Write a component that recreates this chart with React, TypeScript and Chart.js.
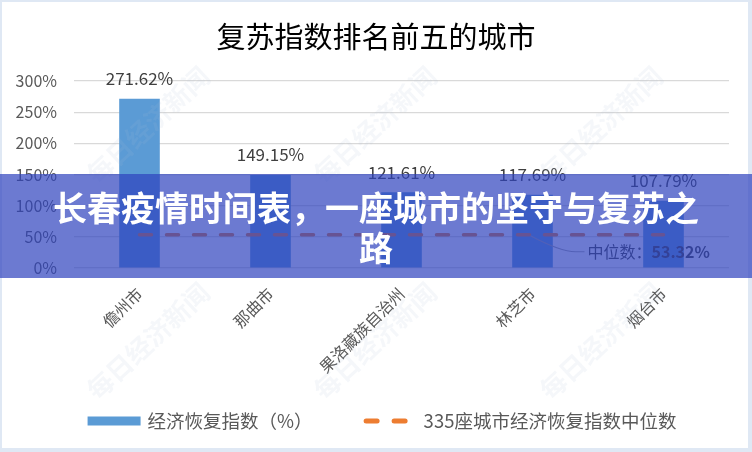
import React, { useEffect, useRef } from "react";
import { Chart, registerables } from "chart.js";

Chart.register(...registerables);

const chartTitle = "复苏指数排名前五的城市";
const cities = ["儋州市", "那曲市", "果洛藏族自治州", "林芝市", "烟台市"];
const recoveryIndex = [271.62, 149.15, 121.61, 117.69, 107.79];
const medianValue = 53.32;
const medianSeries = [53.32, 53.32, 53.32, 53.32, 53.32];
const yMin = 0;
const yMax = 300;
const yStep = 50;
const barLegend = "经济恢复指数（%）";
const lineLegend = "335座城市经济恢复指数中位数";
const medianPrefix = "中位数：";
const bannerLines = ["长春疫情时间表，一座城市的坚守与复苏之", "路"];
const watermarkText = "每日经济新闻";

const FONT = '"Noto Sans CJK SC", "Noto Sans", sans-serif';
const BAR_COLOR = "#5B9BD5";
const LINE_COLOR = "#ED7D31";

const extrasPlugin = {
  id: "extras",
  afterDatasetsDraw(chart: any) {
    const ctx = chart.ctx;
    const xs = chart.scales.x;
    const ys = chart.scales.y;
    const meta = chart.getDatasetMeta(0);
    ctx.save();
    // title
    ctx.font = `29px ${FONT}`;
    ctx.fillStyle = "#000000";
    ctx.textAlign = "center";
    ctx.textBaseline = "middle";
    ctx.fillText(chartTitle, chart.width / 2, 37);
    // data labels
    ctx.font = `17px ${FONT}`;
    ctx.fillStyle = "#404040";
    meta.data.forEach((bar: any, i: number) => {
      ctx.fillText(recoveryIndex[i].toFixed(2) + "%", bar.x, bar.y - 20);
    });
    // median annotation
    const yMed = ys.getPixelForValue(medianValue);
    const sx = xs.getPixelForValue(3) - 2;
    const sy = yMed + 1;
    const mx = sx + 45;
    const my = yMed + 17;
    const ex = mx + 9;
    ctx.strokeStyle = "#a6a6a6";
    ctx.lineWidth = 1.2;
    ctx.beginPath();
    ctx.moveTo(sx, sy);
    ctx.quadraticCurveTo(sx + 30, my, mx, my);
    ctx.lineTo(ex, my);
    ctx.stroke();
    ctx.textAlign = "left";
    ctx.font = `16px ${FONT}`;
    ctx.fillStyle = "#404040";
    ctx.fillText(medianPrefix, ex + 3, my);
    const pw = ctx.measureText(medianPrefix).width;
    ctx.font = `bold 16px ${FONT}`;
    ctx.fillText(medianValue.toFixed(2) + "%", ex + 3 + pw, my);
    ctx.restore();
  },
  afterDraw(chart: any) {
    const ctx = chart.ctx;
    const W = chart.width;
    ctx.save();
    // legend
    ctx.font = `18.5px ${FONT}`;
    ctx.textBaseline = "middle";
    ctx.textAlign = "left";
    const w1 = ctx.measureText(barLegend).width;
    const w2 = ctx.measureText(lineLegend).width;
    const total = 53 + 7 + w1 + 51 + 44 + 16 + w2;
    let x = W / 2 + 6 - total / 2;
    const ly = 421;
    ctx.fillStyle = BAR_COLOR;
    ctx.fillRect(x, ly - 4.5, 53, 9);
    x += 60;
    ctx.fillStyle = "#595959";
    ctx.fillText(barLegend, x, ly);
    x += w1 + 51;
    ctx.strokeStyle = LINE_COLOR;
    ctx.lineWidth = 5;
    ctx.lineCap = "round";
    ctx.setLineDash([11, 17]);
    ctx.beginPath();
    ctx.moveTo(x + 2.5, ly);
    ctx.lineTo(x + 41.5, ly);
    ctx.stroke();
    ctx.setLineDash([]);
    x += 60;
    ctx.fillText(lineLegend, x, ly);
    // watermarks
    ctx.font = `bold 26px ${FONT}`;
    ctx.fillStyle = "rgba(175,190,212,0.12)";
    ctx.textAlign = "center";
    const cols = [148, 375, 601];
    const rows = [125, 341];
    rows.forEach((ry) =>
      cols.forEach((cx) => {
        ctx.save();
        ctx.translate(cx, ry);
        ctx.rotate(-0.75);
        ctx.fillText(watermarkText, 0, 0);
        ctx.restore();
      })
    );
    ctx.restore();
  },
};

export default function App() {
  const ref = useRef<HTMLCanvasElement | null>(null);
  useEffect(() => {
    if (!ref.current) return;
    const tickFont = { family: FONT, size: 16 };
    const chart = new Chart(ref.current, {
      type: "bar",
      data: {
        labels: cities,
        datasets: [
          {
            type: "bar",
            label: barLegend,
            data: recoveryIndex,
            backgroundColor: BAR_COLOR,
            categoryPercentage: 0.31,
            barPercentage: 1,
            order: 2,
          } as any,
          {
            type: "line",
            label: lineLegend,
            data: medianSeries,
            borderColor: LINE_COLOR,
            borderWidth: 3.5,
            borderDash: [12, 15],
            borderCapStyle: "round",
            pointRadius: 0,
            fill: false,
            order: 1,
          } as any,
        ],
      },
      options: {
        responsive: false,
        animation: false,
        devicePixelRatio: 1,
        layout: { padding: { left: 0, right: 23, top: 81, bottom: 0 } },
        plugins: {
          legend: { display: false },
          tooltip: { enabled: false },
          title: { display: false },
        },
        scales: {
          x: {
            grid: { display: false },
            border: { display: false },
            ticks: {
              font: tickFont,
              color: "#595959",
              maxRotation: 45,
              minRotation: 45,
              autoSkip: false,
              padding: 8,
            },
            afterFit(s: any) {
              s.height = 184;
            },
          },
          y: {
            min: yMin,
            max: yMax,
            ticks: {
              stepSize: yStep,
              font: tickFont,
              color: "#595959",
              padding: 17,
              callback: (v: any) => v + "%",
            },
            grid: { color: "#d9d9d9", lineWidth: 1.2, drawTicks: false },
            border: { display: false },
            afterFit(s: any) {
              s.width = 74;
            },
          },
        },
      } as any,
      plugins: [extrasPlugin],
    });
    return () => chart.destroy();
  }, []);

  return (
    <div
      style={{
        position: "fixed",
        left: 0,
        top: 0,
        width: 752,
        height: 452,
        background: "#dfe8f4",
        overflow: "hidden",
      }}
    >
      <div
        style={{
          position: "absolute",
          left: 2,
          top: 2,
          width: 746,
          height: 446,
          background: "#ffffff",
        }}
      />
      <canvas
        ref={ref}
        width={752}
        height={452}
        style={{ position: "absolute", left: 0, top: 0, width: 752, height: 452 }}
      />
      <div
        style={{
          position: "absolute",
          left: 0,
          top: 174,
          width: 752,
          height: 104,
          boxSizing: "border-box",
          paddingTop: 13,
          background: "rgba(45,65,190,0.7)",
          color: "#ffffff",
          fontFamily: FONT,
          fontWeight: 700,
          fontSize: 34,
          lineHeight: "40px",
          textAlign: "center",
          whiteSpace: "nowrap",
        }}
      >
        {bannerLines[0]}
        <br />
        {bannerLines[1]}
      </div>
    </div>
  );
}
